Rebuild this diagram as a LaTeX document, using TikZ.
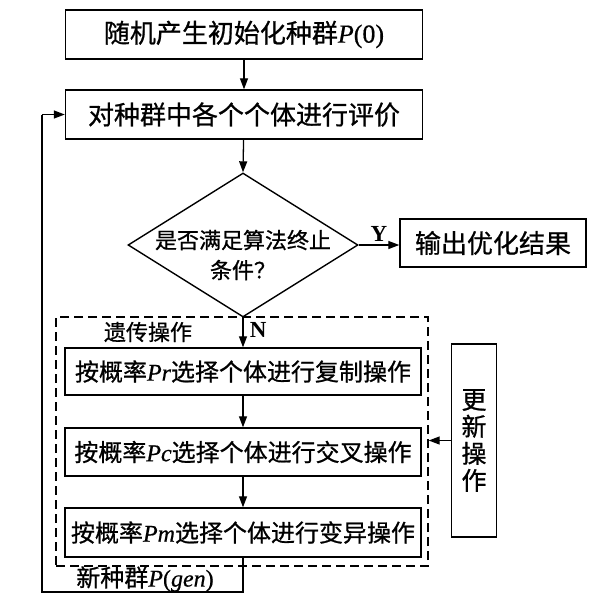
\documentclass[tikz,border=0pt]{standalone}
\usepackage{fontspec}
\setmainfont{Liberation Serif}
\newfontfamily\cjk[FakeBold=0.8]{Noto Sans CJK SC}
\newfontfamily\lat[FakeBold=0.6]{Liberation Serif}
\usetikzlibrary{arrows.meta,shapes.geometric}
\begin{document}
\begin{tikzpicture}[x=1pt,y=-1pt,
  box/.style={draw,line width=1.4pt,inner sep=0pt},
  arr/.style={-{Triangle[length=11pt,width=8pt]},line width=1.3pt},
  ln/.style={line width=1.3pt},
  fa/.style={font=\fontsize{26}{30}\selectfont},
  fb/.style={font=\fontsize{24}{28}\selectfont},
  fc/.style={font=\fontsize{22}{30}\selectfont},
  yn/.style={font=\fontsize{23}{25}\selectfont\bfseries}]
\useasboundingbox (0,0) rectangle (597,603);

\node[box,fa,minimum width=357pt,minimum height=49pt] (b1) at (244,34.5) {{\cjk 随机产生初始化种群}{\lat\itshape P}{\lat(0)}};
\node[box,fa,minimum width=357pt,minimum height=49pt] (b2) at (244,114.5) {\cjk 对种群中各个个体进行评价};
\node[draw,diamond,line width=1.4pt,minimum width=230pt,minimum height=144pt,inner sep=0pt] (d) at (243,245) {};
\node[fc,align=center] (dt) at (243,255) {\cjk 是否满足算法终止\\\cjk 条件？};
\node[box,fa,minimum width=186pt,minimum height=48pt] (out) at (493,243) {\cjk 输出优化结果};

\node[draw,dashed,dash pattern=on 9pt off 5pt,line width=1.4pt,minimum width=372pt,minimum height=249pt,inner sep=0pt] (g) at (242,441.5) {};
\node[fc] (gl) at (148,332) {\cjk 遗传操作};

\node[box,fb,minimum width=356pt,minimum height=47pt] (s1) at (243,371.5) {{\cjk 按概率}{\lat\itshape Pr}{\cjk 选择个体进行复制操作}};
\node[box,fb,minimum width=356pt,minimum height=48pt] (s2) at (243,452) {{\cjk 按概率}{\lat\itshape Pc}{\cjk 选择个体进行交叉操作}};
\node[box,fb,minimum width=356pt,minimum height=49pt] (s3) at (243,532.5) {{\cjk 按概率}{\lat\itshape Pm}{\cjk 选择个体进行变异操作}};

\node[box,fb,minimum width=45pt,minimum height=193pt,align=center,font=\fontsize{25}{27}\selectfont] (u) at (474,440.5) {\cjk 更\\\cjk 新\\\cjk 操\\\cjk 作};

\node[fb] (ng) at (145,579) {{\cjk 新种群}{\lat\itshape P}{\lat(}{\lat\itshape gen}{\lat)}};

\coordinate (c1) at (243,592);
\coordinate (c2) at (42,592);
\coordinate (c3) at (42,114.5);

\draw[arr] (b1) -- (b2);
\draw[arr] (b2) -- (d.north);
\draw[arr] (d.east) -- (out.west |- d.east) node[yn,midway,above,yshift=0pt] {Y};
\draw[arr] (d.south) -- (s1.north) node[yn,pos=0.4,right,xshift=3pt] {N};
\draw[arr] (s1) -- (s2);
\draw[arr] (s2) -- (s3);
\draw[arr] (u.west) -- (g.east |- u.west);
\draw[ln] (s3.south) -- (c1) -- (c2) -- (c3);
\draw[arr] (c3) -- (b2.west);
\end{tikzpicture}
\end{document}
